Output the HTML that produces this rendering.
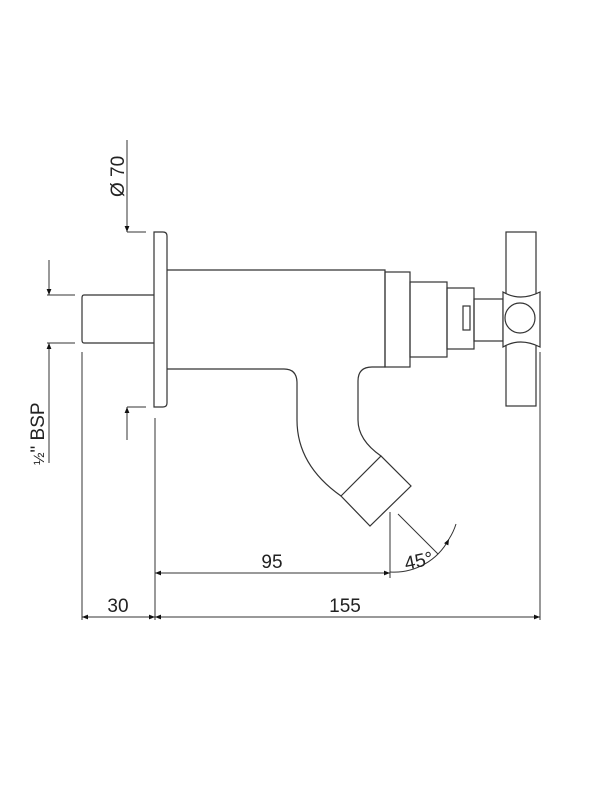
<!DOCTYPE html>
<html><head><style>body{margin:0;background:#fff}svg{display:block}</style></head><body>
<svg width="600" height="800" viewBox="0 0 600 800" xmlns="http://www.w3.org/2000/svg" font-family="Liberation Sans, sans-serif">
<defs>
<marker id="a" viewBox="0 0 10 10" refX="10" refY="5" markerWidth="16" markerHeight="6" markerUnits="userSpaceOnUse" orient="auto-start-reverse"><path d="M0,1 L10,5 L0,9z" fill="#111"/></marker>
</defs>
<g fill="none" stroke="#333" stroke-width="1.2">
<path d="M154,232 H163 Q167,232 167,236 V403 Q167,407 163,407 H154 Z"/>
<path d="M154,295 H84 Q82,295 82,298 V340 Q82,343 84,343 H154"/>
<path d="M167,270 H385 V367 H372 Q358,367 358,381 V420 Q358,440 381,456"/>
<path d="M167,369 H284 Q297,369 297,383 V420 Q297,465 341,496"/>
<path d="M341,496 L381,456 L411,486 L370,526 Z"/>
<rect x="385" y="272" width="25" height="95"/>
<rect x="410" y="282" width="37" height="75"/>
<rect x="447" y="288" width="27" height="61"/>
<rect x="463" y="306" width="7" height="24"/>
<rect x="474" y="299" width="29" height="42"/>
<rect x="506" y="232" width="30" height="174"/>
<path d="M503,292 Q520,302 540,292 V347 Q520,337 503,347 Z" fill="#fff"/>
<circle cx="520" cy="318" r="15"/>
</g>
<g fill="none" stroke="#333" stroke-width="1">
<line x1="127" y1="140" x2="127" y2="232" marker-end="url(#a)"/>
<line x1="127" y1="232" x2="146" y2="232"/>
<line x1="127" y1="440" x2="127" y2="407" marker-end="url(#a)"/>
<line x1="127" y1="407" x2="146" y2="407"/>
<line x1="49" y1="260" x2="49" y2="295" marker-end="url(#a)"/>
<line x1="49" y1="463" x2="49" y2="343" marker-end="url(#a)"/>
<line x1="47" y1="295" x2="75" y2="295"/>
<line x1="47" y1="343" x2="75" y2="343"/>
<line x1="82" y1="352" x2="82" y2="620"/>
<line x1="155" y1="418" x2="155" y2="620"/>
<line x1="540" y1="352" x2="540" y2="620"/>
<line x1="390" y1="512" x2="390" y2="578"/>
<line x1="398" y1="514" x2="438" y2="554"/>
<line x1="82" y1="617" x2="155" y2="617" marker-start="url(#a)" marker-end="url(#a)"/>
<line x1="155" y1="617" x2="540" y2="617" marker-start="url(#a)" marker-end="url(#a)"/>
<line x1="155" y1="573" x2="390" y2="573" marker-start="url(#a)" marker-end="url(#a)"/>
<path d="M390,572 A62,62 0 0 0 449,539" marker-end="url(#a)"/>
<path d="M449,539 A62,62 0 0 0 456,524"/>
</g>
<g fill="#222" font-size="19">
<text x="118" y="612" text-anchor="middle">30</text>
<text x="272" y="568" text-anchor="middle">95</text>
<text x="345" y="612" text-anchor="middle">155</text>
<text x="406" y="570" transform="rotate(-12 406 570)">45°</text>
<text transform="translate(124,197) rotate(-90)">Ø 70</text>
<text transform="translate(44,465) rotate(-90)"><tspan font-size="15">½</tspan>" BSP</text>
</g>
</svg>
</body></html>
